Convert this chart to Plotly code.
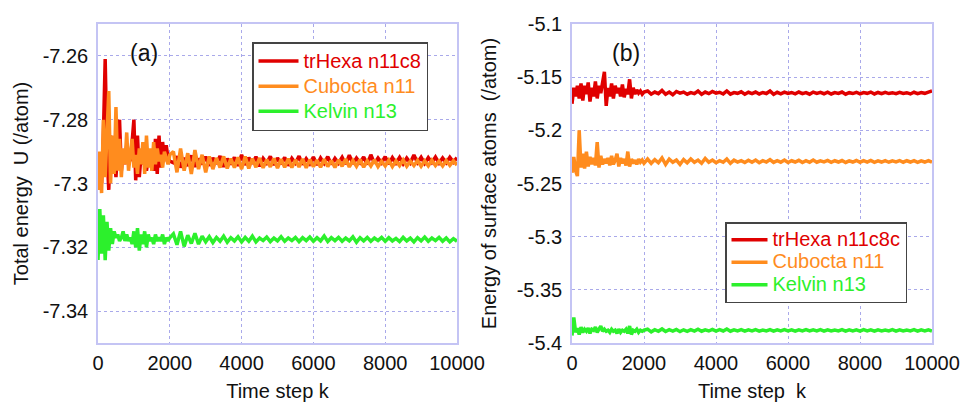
import plotly.graph_objects as go

# time steps
k_steps = list(range(0, 2001, 50)) + list(range(2100, 10001, 100))

# ---- panel (a): total energy U (/atom) ----
a_trhexa = [
    -7.300, -7.295, -7.300, -7.285, -7.261, -7.290, -7.302, -7.285, -7.295, -7.290,
    -7.298, -7.287, -7.280, -7.296, -7.290, -7.294, -7.288, -7.292, -7.293, -7.287,
    -7.280, -7.299, -7.285, -7.298, -7.291, -7.294, -7.289, -7.296, -7.292, -7.293,
    -7.290, -7.296, -7.286, -7.297, -7.285, -7.295, -7.287, -7.293, -7.288, -7.292,
    -7.293,
    -7.2935, -7.2915, -7.2950, -7.2920, -7.2945, -7.2912, -7.2948, -7.2922, -7.2940, -7.2916,
    -7.2944, -7.2920, -7.2938, -7.2914, -7.2948, -7.2922, -7.2940, -7.2918, -7.2945, -7.2910,
    -7.2942, -7.2919, -7.2938, -7.2916, -7.2946, -7.2921, -7.2936, -7.2915, -7.2942, -7.2920,
    -7.2939, -7.2918, -7.2944, -7.2921, -7.2936, -7.2914, -7.2941, -7.2922, -7.2938, -7.2917,
    -7.2942, -7.2920, -7.2937, -7.2916, -7.2940, -7.2921, -7.2936, -7.2918, -7.2939, -7.2911,
    -7.2938, -7.2920, -7.2935, -7.2917, -7.2940, -7.2910, -7.2937, -7.2920, -7.2935, -7.2916,
    -7.2939, -7.2919, -7.2936, -7.2918, -7.2938, -7.2920, -7.2935, -7.2911, -7.2934, -7.2918,
    -7.2937, -7.2919, -7.2934, -7.2917, -7.2936, -7.2920, -7.2935, -7.2918, -7.2933, -7.2919,
]
a_cubocta = [
    -7.302, -7.290, -7.303, -7.280, -7.298, -7.285, -7.271, -7.300, -7.285, -7.297,
    -7.276, -7.296, -7.286, -7.298, -7.289, -7.294, -7.284, -7.296, -7.290, -7.286,
    -7.295, -7.291, -7.297, -7.289, -7.294, -7.287, -7.297, -7.285, -7.295, -7.289,
    -7.296, -7.287, -7.294, -7.289, -7.293, -7.291, -7.295, -7.290, -7.292, -7.294,
    -7.291,
    -7.2900, -7.2965, -7.2890, -7.2960, -7.2905, -7.2970, -7.2895, -7.2955, -7.2910, -7.2965,
    -7.2915, -7.2955, -7.2920, -7.2950, -7.2915, -7.2953, -7.2922, -7.2950, -7.2918, -7.2955,
    -7.2915, -7.2953, -7.2922, -7.2949, -7.2920, -7.2951, -7.2925, -7.2948, -7.2921, -7.2952,
    -7.2924, -7.2949, -7.2922, -7.2950, -7.2926, -7.2948, -7.2923, -7.2951, -7.2925, -7.2947,
    -7.2927, -7.2949, -7.2924, -7.2947, -7.2928, -7.2950, -7.2926, -7.2946, -7.2923, -7.2948,
    -7.2928, -7.2946, -7.2925, -7.2949, -7.2929, -7.2945, -7.2926, -7.2947, -7.2930, -7.2945,
    -7.2927, -7.2947, -7.2929, -7.2944, -7.2926, -7.2946, -7.2930, -7.2944, -7.2928, -7.2946,
    -7.2929, -7.2945, -7.2927, -7.2944, -7.2930, -7.2945, -7.2928, -7.2943, -7.2929, -7.2942,
]
a_kelvin = [
    -7.324, -7.308, -7.322, -7.310, -7.324, -7.312, -7.321, -7.314, -7.319, -7.315,
    -7.317, -7.316, -7.318, -7.317, -7.315, -7.318, -7.316, -7.318, -7.317, -7.319,
    -7.315, -7.320, -7.314, -7.321, -7.316, -7.319, -7.315, -7.320, -7.316, -7.318,
    -7.317, -7.319, -7.316, -7.318, -7.317, -7.318, -7.316, -7.319, -7.317, -7.318,
    -7.317,
    -7.3158, -7.3192, -7.3150, -7.3197, -7.3162, -7.3188, -7.3156, -7.3190, -7.3165, -7.3183,
    -7.3167, -7.3185, -7.3169, -7.3181, -7.3165, -7.3184, -7.3170, -7.3180, -7.3167, -7.3183,
    -7.3169, -7.3181, -7.3165, -7.3183, -7.3171, -7.3179, -7.3168, -7.3182, -7.3171, -7.3180,
    -7.3167, -7.3181, -7.3171, -7.3179, -7.3169, -7.3182, -7.3170, -7.3179, -7.3168, -7.3181,
    -7.3170, -7.3180, -7.3165, -7.3182, -7.3170, -7.3179, -7.3169, -7.3181, -7.3171, -7.3180,
    -7.3167, -7.3184, -7.3170, -7.3180, -7.3169, -7.3181, -7.3171, -7.3179, -7.3169, -7.3181,
    -7.3170, -7.3180, -7.3172, -7.3182, -7.3169, -7.3180, -7.3171, -7.3183, -7.3170, -7.3180,
    -7.3168, -7.3181, -7.3171, -7.3179, -7.3169, -7.3181, -7.3171, -7.3183, -7.3173, -7.3181,
]

# ---- panel (b): energy of surface atoms (/atom) ----
b_trhexa = [
    -5.175, -5.160, -5.168, -5.158, -5.170, -5.156, -5.172, -5.158, -5.166, -5.155,
    -5.173, -5.160, -5.168, -5.154, -5.170, -5.158, -5.165, -5.152, -5.145, -5.177,
    -5.160, -5.168, -5.156, -5.170, -5.158, -5.165, -5.160, -5.168, -5.157, -5.169,
    -5.161, -5.166, -5.152, -5.170, -5.160, -5.166, -5.162, -5.165, -5.163, -5.166,
    -5.164,
    -5.1630, -5.1660, -5.1640, -5.1655, -5.1625, -5.1660, -5.1640, -5.1665, -5.1635, -5.1650,
    -5.1640, -5.1660, -5.1645, -5.1655, -5.1630, -5.1662, -5.1640, -5.1655, -5.1635, -5.1650,
    -5.1642, -5.1658, -5.1630, -5.1660, -5.1645, -5.1652, -5.1638, -5.1660, -5.1642, -5.1655,
    -5.1640, -5.1658, -5.1644, -5.1654, -5.1630, -5.1662, -5.1642, -5.1656, -5.1640, -5.1652,
    -5.1644, -5.1657, -5.1640, -5.1655, -5.1645, -5.1660, -5.1640, -5.1652, -5.1643, -5.1656,
    -5.1641, -5.1658, -5.1645, -5.1653, -5.1640, -5.1660, -5.1646, -5.1654, -5.1642, -5.1657,
    -5.1645, -5.1652, -5.1640, -5.1658, -5.1644, -5.1655, -5.1642, -5.1654, -5.1646, -5.1656,
    -5.1643, -5.1653, -5.1646, -5.1658, -5.1642, -5.1655, -5.1645, -5.1652, -5.1640, -5.1630,
]
b_cubocta = [
    -5.240, -5.225, -5.238, -5.243, -5.200, -5.235, -5.222, -5.236, -5.220, -5.234,
    -5.225, -5.232, -5.226, -5.233, -5.211, -5.235, -5.224, -5.232, -5.227, -5.231,
    -5.226, -5.233, -5.224, -5.232, -5.228, -5.222, -5.234, -5.226, -5.231, -5.227,
    -5.233, -5.220, -5.234, -5.227, -5.231, -5.228, -5.232, -5.227, -5.230, -5.228,
    -5.231,
    -5.2270, -5.2310, -5.2275, -5.2305, -5.2260, -5.2320, -5.2270, -5.2300, -5.2280, -5.2320,
    -5.2275, -5.2305, -5.2270, -5.2300, -5.2280, -5.2310, -5.2265, -5.2300, -5.2280, -5.2305,
    -5.2285, -5.2300, -5.2270, -5.2310, -5.2280, -5.2298, -5.2285, -5.2302, -5.2282, -5.2300,
    -5.2280, -5.2305, -5.2285, -5.2298, -5.2275, -5.2302, -5.2286, -5.2300, -5.2280, -5.2303,
    -5.2286, -5.2298, -5.2282, -5.2302, -5.2285, -5.2300, -5.2280, -5.2300, -5.2287, -5.2297,
    -5.2283, -5.2301, -5.2286, -5.2298, -5.2284, -5.2302, -5.2287, -5.2298, -5.2284, -5.2300,
    -5.2286, -5.2299, -5.2283, -5.2301, -5.2287, -5.2298, -5.2285, -5.2300, -5.2287, -5.2297,
    -5.2284, -5.2300, -5.2286, -5.2298, -5.2285, -5.2301, -5.2287, -5.2298, -5.2285, -5.2300,
]
b_kelvin = [
    -5.393, -5.376, -5.390, -5.386, -5.392, -5.385, -5.390, -5.387, -5.389, -5.386,
    -5.391, -5.387, -5.388, -5.385, -5.390, -5.386, -5.384, -5.389, -5.387, -5.389,
    -5.388, -5.390, -5.387, -5.389, -5.388, -5.391, -5.387, -5.390, -5.388, -5.389,
    -5.387, -5.391, -5.384, -5.392, -5.388, -5.389, -5.387, -5.390, -5.388, -5.389,
    -5.388,
    -5.3870, -5.3895, -5.3875, -5.3890, -5.3868, -5.3892, -5.3875, -5.3888, -5.3872, -5.3893,
    -5.3876, -5.3890, -5.3874, -5.3888, -5.3870, -5.3889, -5.3876, -5.3887, -5.3872, -5.3888,
    -5.3875, -5.3887, -5.3868, -5.3889, -5.3876, -5.3886, -5.3875, -5.3888, -5.3877, -5.3886,
    -5.3875, -5.3888, -5.3878, -5.3886, -5.3874, -5.3888, -5.3876, -5.3887, -5.3875, -5.3886,
    -5.3877, -5.3888, -5.3876, -5.3886, -5.3874, -5.3887, -5.3877, -5.3886, -5.3875, -5.3888,
    -5.3876, -5.3887, -5.3878, -5.3886, -5.3874, -5.3888, -5.3876, -5.3886, -5.3877, -5.3888,
    -5.3875, -5.3887, -5.3877, -5.3889, -5.3876, -5.3886, -5.3878, -5.3887, -5.3875, -5.3888,
    -5.3876, -5.3887, -5.3878, -5.3886, -5.3875, -5.3888, -5.3877, -5.3887, -5.3876, -5.3888,
]

names_a = ["trHexa n11c8", "Cubocta n11", "Kelvin n13"]
names_b = ["trHexa n11c8c", "Cubocta n11", "Kelvin n13"]
colors = ["#e00000", "#ff8c1e", "#2cf02c"]

x_ticks = [0, 2000, 4000, 6000, 8000, 10000]
x_ticktext = ["0", "2000", "4000", "6000", "8000", "10000"]
a_ticks = [-7.34, -7.32, -7.30, -7.28, -7.26]
a_ticktext = ["-7.34", "-7.32", "-7.3", "-7.28", "-7.26"]
b_ticks = [-5.40, -5.35, -5.30, -5.25, -5.20, -5.15, -5.10]
b_ticktext = ["-5.4", "-5.35", "-5.3", "-5.25", "-5.2", "-5.15", "-5.1"]

FONT = "Liberation Sans, Arial, sans-serif"
W, H = 962, 402
FS = 20

fig = go.Figure()
for name, col, ys in zip(names_a, colors, [a_trhexa, a_cubocta, a_kelvin]):
    fig.add_trace(go.Scatter(
        x=k_steps, y=ys, mode="lines", xaxis="x", yaxis="y", legend="legend",
        name=f'<span style="color:{col};font-size:{FS}px">{name}</span>',
        line=dict(color=col, width=3.5)))
for name, col, ys in zip(names_b, colors, [b_trhexa, b_cubocta, b_kelvin]):
    fig.add_trace(go.Scatter(
        x=k_steps, y=ys, mode="lines", xaxis="x2", yaxis="y2", legend="legend2",
        name=f'<span style="color:{col};font-size:{FS}px">{name}</span>',
        line=dict(color=col, width=3.5)))

frame = "#c4c4f4"
grid = "#a9a9ea"
common_axis = dict(showline=True, linecolor=frame, linewidth=1.5, mirror=True,
                   showgrid=True, gridcolor=grid, griddash="dot", gridwidth=1,
                   zeroline=False, ticks="", automargin=False,
                   tickfont=dict(size=FS, color="#111"))

ytop = 1 - 24 / H
ybot = 1 - 343 / H

fig.update_layout(
    width=W, height=H,
    margin=dict(l=0, r=0, t=0, b=0, autoexpand=False),
    paper_bgcolor="white", plot_bgcolor="white",
    font=dict(family=FONT, size=FS, color="#111"),
    xaxis=dict(domain=[98 / W, 457 / W], range=[0, 10000], tickvals=x_ticks,
               ticktext=x_ticktext, ticklabelstandoff=1,
               title=dict(text="Time step k", standoff=25, font=dict(size=FS)),
               anchor="y", **common_axis),
    yaxis=dict(domain=[ybot, ytop], range=[-7.35, -7.25], tickvals=a_ticks,
               ticktext=a_ticktext, ticklabelstandoff=4,
               title=dict(text="Total energy  U (/atom)", standoff=9, font=dict(size=FS)),
               anchor="x", **common_axis),
    xaxis2=dict(domain=[572 / W, 932 / W], range=[0, 10000], tickvals=x_ticks,
                ticktext=x_ticktext, ticklabelstandoff=1,
                title=dict(text="Time step  k", standoff=25, font=dict(size=FS)),
                anchor="y2", **common_axis),
    yaxis2=dict(domain=[ybot, ytop], range=[-5.4, -5.1], tickvals=b_ticks,
                ticktext=b_ticktext, ticklabelstandoff=4,
                title=dict(text="Energy of surface atoms  (/atom)", standoff=15, font=dict(size=FS)),
                anchor="x2", **common_axis),
    legend=dict(x=252 / W, y=1 - 42 / H, xanchor="left", yanchor="top",
                bgcolor="white", bordercolor="#444", borderwidth=1.5,
                itemwidth=40,
                font=dict(size=17, family=FONT), tracegroupgap=0),
    legend2=dict(x=725 / W, y=1 - 222 / H, xanchor="left", yanchor="top",
                 bgcolor="white", bordercolor="#444", borderwidth=1.5,
                 itemwidth=36,
                 font=dict(size=15, family=FONT), tracegroupgap=0),
    showlegend=True,
    annotations=[
        dict(text="(a)", x=144 / W, y=1 - 53 / H, xref="paper", yref="paper",
             xanchor="center", yanchor="middle",
             showarrow=False, font=dict(size=23, color="#111")),
        dict(text="(b)", x=626 / W, y=1 - 53 / H, xref="paper", yref="paper",
             xanchor="center", yanchor="middle",
             showarrow=False, font=dict(size=23, color="#111")),
    ],
)

fig.write_html("out.html")
